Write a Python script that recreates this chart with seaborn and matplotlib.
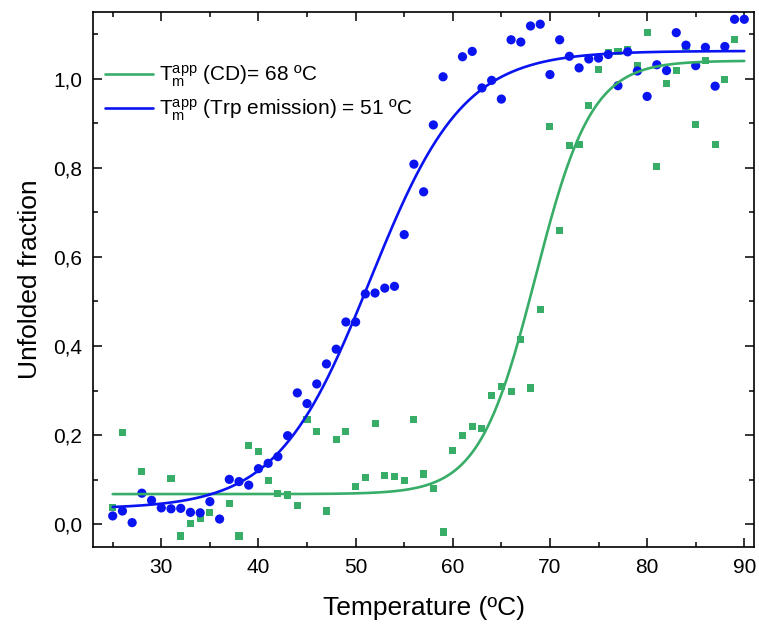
import numpy as np
import pandas as pd
import matplotlib
matplotlib.use("Agg")
import matplotlib.pyplot as plt
from matplotlib.ticker import MultipleLocator, FuncFormatter
import seaborn as sns

# ---- data ----
trp_temp = [25, 26, 27, 28, 29, 30, 31, 32, 33, 34, 35, 36, 37, 38, 39, 40, 41, 42, 43, 44,
            45, 46, 47, 48, 49, 50, 51, 52, 53, 54, 55, 56, 57, 58, 59, 61, 62, 63, 64, 65,
            66, 67, 68, 69, 70, 71, 72, 73, 74, 75, 76, 77, 78, 79, 80, 81, 82, 83, 84, 85,
            86, 87, 88, 89, 90]
trp_frac = [0.019, 0.030, 0.004, 0.070, 0.054, 0.037, 0.035, 0.036, 0.027, 0.026, 0.051, 0.012,
            0.101, 0.096, 0.088, 0.125, 0.137, 0.152, 0.199, 0.295, 0.271, 0.315, 0.360, 0.393,
            0.454, 0.454, 0.517, 0.519, 0.530, 0.534, 0.650, 0.808, 0.746, 0.896, 1.004, 1.049,
            1.061, 0.979, 0.996, 0.954, 1.087, 1.082, 1.118, 1.122, 1.009, 1.087, 1.050, 1.024,
            1.044, 1.046, 1.054, 0.984, 1.060, 1.017, 0.960, 1.031, 1.018, 1.103, 1.075, 1.029,
            1.070, 0.983, 1.072, 1.133, 1.133]

cd_temp = [25, 26, 28, 31, 32, 33, 34, 35, 37, 38, 39, 40, 41, 42, 43, 44, 45, 46, 47, 48,
           49, 50, 51, 52, 53, 54, 55, 56, 57, 58, 59, 60, 61, 62, 63, 64, 65, 66, 67, 68,
           69, 70, 71, 72, 73, 74, 75, 76, 77, 78, 79, 80, 81, 82, 83, 84, 85, 86, 87, 88, 89]
cd_frac = [0.037, 0.206, 0.118, 0.102, -0.026, 0.002, 0.013, 0.026, 0.046, -0.026, 0.176, 0.164,
           0.099, 0.069, 0.066, 0.043, 0.236, 0.208, 0.030, 0.191, 0.209, 0.084, 0.105, 0.226,
           0.110, 0.107, 0.099, 0.235, 0.113, 0.081, -0.017, 0.165, 0.200, 0.220, 0.216, 0.290,
           0.310, 0.299, 0.415, 0.306, 0.482, 0.892, 0.660, 0.850, 0.853, 0.939, 1.020, 1.059,
           1.060, 1.066, 1.030, 1.104, 0.803, 0.989, 1.018, 1.071, 0.897, 1.040, 0.852, 0.998,
           1.088]

# Boltzmann fit parameters (bottom, top, Tm, slope)
trp_fit = dict(bottom=0.035, top=1.062, tm=51.5, dx=4.8)
cd_fit = dict(bottom=0.068, top=1.040, tm=68.5, dx=2.9)

x_ticks = [30, 40, 50, 60, 70, 80, 90]
y_ticks = [0.0, 0.2, 0.4, 0.6, 0.8, 1.0]
label_cd = r"T$_\mathregular{m}^\mathregular{app}$ (CD)= 68 ºC"
label_trp = r"T$_\mathregular{m}^\mathregular{app}$ (Trp emission) = 51 ºC"

BLUE = "#0a14f0"
GREEN = "#38ad68"


def boltzmann(t, bottom, top, tm, dx):
    t = np.asarray(t, dtype=float)
    return bottom + (top - bottom) / (1.0 + np.exp((tm - t) / dx))


sns.set_theme(style="ticks")
plt.rcParams["font.family"] = ["Liberation Sans", "DejaVu Sans"]
plt.rcParams["mathtext.fontset"] = "custom"
plt.rcParams["mathtext.rm"] = "Liberation Sans"
plt.rcParams["mathtext.it"] = "Liberation Sans:italic"
for key in ["text.color", "axes.labelcolor", "xtick.color", "ytick.color", "axes.edgecolor"]:
    plt.rcParams[key] = "black"

fig = plt.figure(figsize=(7.59, 6.26), dpi=100)
ax = fig.add_axes([0.1229, 0.1267, 0.9934 - 0.1229, 0.9813 - 0.1267])

df_trp = pd.DataFrame({"T": trp_temp, "f": trp_frac})
df_cd = pd.DataFrame({"T": cd_temp, "f": cd_frac})

t_fit = np.linspace(25, 90, 400)
fit_df = pd.DataFrame({
    "T": np.concatenate([t_fit, t_fit]),
    "f": np.concatenate([boltzmann(t_fit, **cd_fit), boltzmann(t_fit, **trp_fit)]),
    "series": [label_cd] * len(t_fit) + [label_trp] * len(t_fit),
})

sns.scatterplot(data=df_cd, x="T", y="f", ax=ax, marker="s", s=26, color=GREEN,
                edgecolor="none", legend=False, zorder=2)
sns.scatterplot(data=df_trp, x="T", y="f", ax=ax, marker="o", s=44, color=BLUE,
                edgecolor="none", legend=False, zorder=3)
sns.lineplot(data=fit_df, x="T", y="f", hue="series", palette=[GREEN, BLUE], ax=ax,
             linewidth=1.9, zorder=4, sort=False)

ax.set_xlim(23, 91)
ax.set_ylim(-0.05, 1.15)
ax.set_xticks(x_ticks)
ax.set_yticks(y_ticks)
ax.xaxis.set_minor_locator(MultipleLocator(5))
ax.yaxis.set_minor_locator(MultipleLocator(0.1))
ax.yaxis.set_major_formatter(FuncFormatter(lambda v, p: f"{v:.1f}".replace(".", ",")))
ax.tick_params(which="both", direction="in", top=True, right=True, width=1.1, colors="black",
               labelsize=15, pad=8)
ax.tick_params(which="major", length=6.5)
ax.tick_params(which="minor", length=3.5)
for s in ax.spines.values():
    s.set_linewidth(1.2)
    s.set_color("black")

ax.set_xlabel("Temperature (ºC)", fontsize=19, labelpad=14, color="black")
ax.set_ylabel("Unfolded fraction", fontsize=19, labelpad=8, color="black")

handles, labels = ax.get_legend_handles_labels()
leg = ax.legend(handles=handles, labels=labels, loc="upper left", bbox_to_anchor=(0.018, 0.903),
                frameon=False, fontsize=15, handlelength=2.3, handletextpad=0.3,
                labelspacing=0.42, borderpad=0, borderaxespad=0)
for t in leg.get_texts():
    t.set_color("black")

fig.savefig("out.png", dpi=100)
